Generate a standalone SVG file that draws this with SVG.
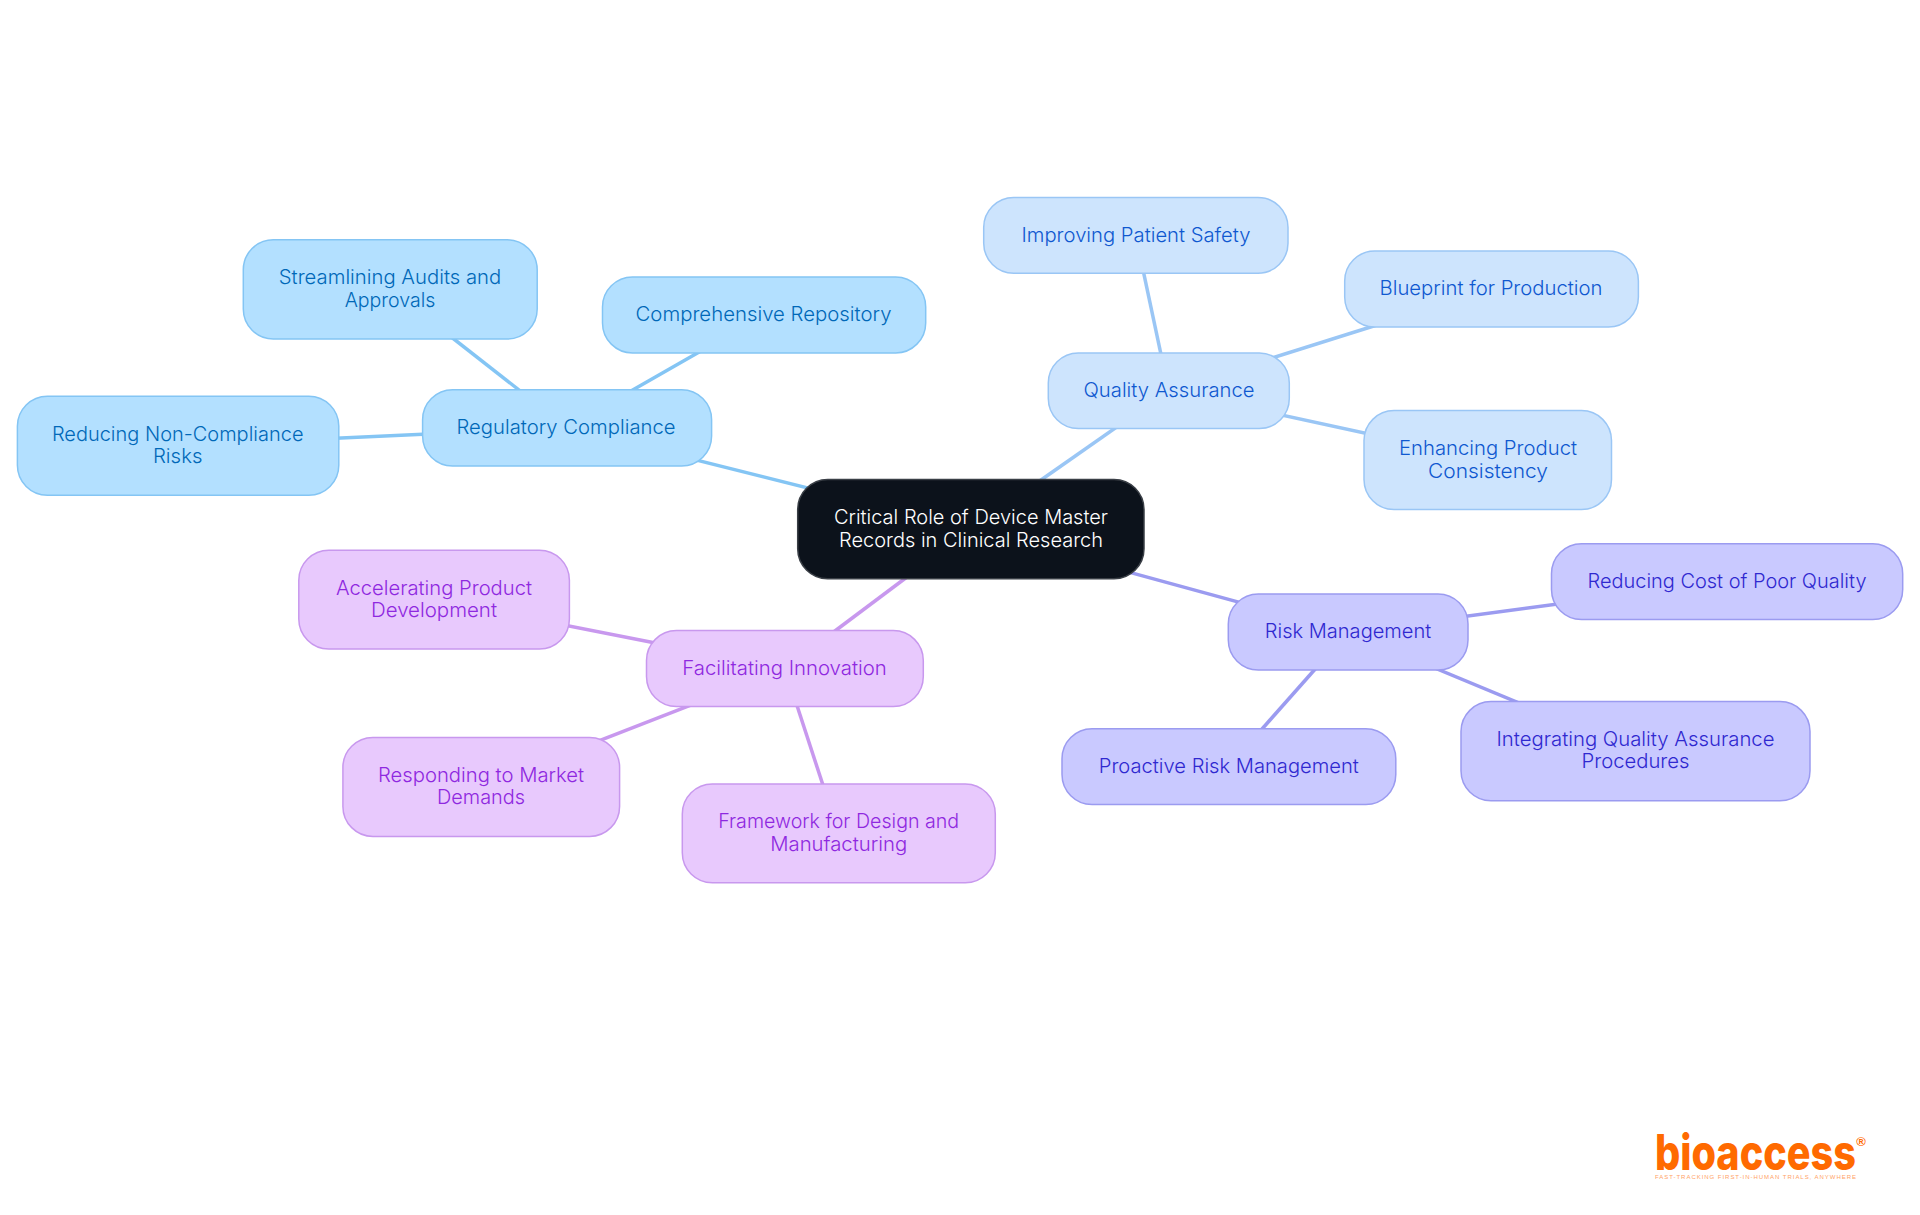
<svg xmlns="http://www.w3.org/2000/svg" width="1920" height="1215" viewBox="0 0 1920 1215">
<style>
text{font-family:"Inter","Noto Sans","Liberation Sans",sans-serif;font-size:20px;font-weight:300;text-anchor:middle}
rect{rx:30px;ry:30px;stroke-width:1.5}
line{stroke-width:3.5;fill:none}
.root rect{fill:#0c121b;stroke:#3a3f46}.root text{fill:#fff}
.b rect{fill:#b3e0ff;stroke:#84c5f4}.b text{fill:#0068b8}line.b{stroke:#84c5f4}
.q rect{fill:#cde4fd;stroke:#9ac6f5}.q text{fill:#0f58d0}line.q{stroke:#9ac6f5}
.r rect{fill:#c9c9ff;stroke:#9b9bf0}.r text{fill:#2f28d0}line.r{stroke:#9b9bf0}
.p rect{fill:#e8c9fd;stroke:#c898ee}.p text{fill:#8f28e0}line.p{stroke:#c898ee}
</style>
<rect width="1920" height="1215" fill="#fff" style="rx:0;ry:0;stroke:none"/>
<g id="connectors">
<line class="b" x1="971" y1="529" x2="567" y2="427.6"/>
<line class="b" x1="567" y1="427.6" x2="390" y2="289"/>
<line class="b" x1="567" y1="427.6" x2="764" y2="315"/>
<line class="b" x1="567" y1="427.6" x2="178" y2="445.6"/>
<line class="q" x1="971" y1="529" x2="1168.7" y2="390.6"/>
<line class="q" x1="1168.7" y1="390.6" x2="1135.6" y2="235"/>
<line class="q" x1="1168.7" y1="390.6" x2="1491.4" y2="289"/>
<line class="q" x1="1168.7" y1="390.6" x2="1487.7" y2="459.7"/>
<line class="r" x1="971" y1="529" x2="1348" y2="632"/>
<line class="r" x1="1348" y1="632" x2="1727" y2="581.6"/>
<line class="r" x1="1348" y1="632" x2="1228.8" y2="766.5"/>
<line class="r" x1="1348" y1="632" x2="1635.5" y2="751.2"/>
<line class="p" x1="971" y1="529" x2="784.9" y2="668.5"/>
<line class="p" x1="784.9" y1="668.5" x2="434" y2="599.4"/>
<line class="p" x1="784.9" y1="668.5" x2="481" y2="786.7"/>
<line class="p" x1="784.9" y1="668.5" x2="838.7" y2="833.3"/>
</g>
<g id="root" class="root"><rect x="797.7" y="479.5" width="346.3" height="99.2"/><text x="971" y="523.5" textLength="274" lengthAdjust="spacingAndGlyphs">Critical Role of Device Master</text><text x="971" y="546.5" textLength="264" lengthAdjust="spacingAndGlyphs">Records in Clinical Research</text></g>
<g id="regulatory" class="b"><rect x="422.6" y="389.8" width="289" height="76.2"/><text x="566" y="433.7" textLength="219" lengthAdjust="spacingAndGlyphs">Regulatory Compliance</text></g>
<g id="streamlining" class="b"><rect x="243.3" y="239.8" width="293.9" height="99.2"/><text x="390" y="284" textLength="222.4" lengthAdjust="spacingAndGlyphs">Streamlining Audits and</text><text x="390" y="306.7" textLength="90.6" lengthAdjust="spacingAndGlyphs">Approvals</text></g>
<g id="comprehensive" class="b"><rect x="602.5" y="276.9" width="323.2" height="76"/><text x="763.5" y="320.5" textLength="256" lengthAdjust="spacingAndGlyphs">Comprehensive Repository</text></g>
<g id="reducing-nc" class="b"><rect x="17.4" y="396.3" width="321.4" height="99"/><text x="177.7" y="441" textLength="251.6" lengthAdjust="spacingAndGlyphs">Reducing Non-Compliance</text><text x="177.7" y="462.8" textLength="49.5" lengthAdjust="spacingAndGlyphs">Risks</text></g>
<g id="quality" class="q"><rect x="1048.3" y="353" width="241" height="75.6"/><text x="1169" y="397" textLength="171" lengthAdjust="spacingAndGlyphs">Quality Assurance</text></g>
<g id="improving" class="q"><rect x="983.7" y="197.4" width="304.3" height="75.8"/><text x="1136" y="242" textLength="229" lengthAdjust="spacingAndGlyphs">Improving Patient Safety</text></g>
<g id="blueprint" class="q"><rect x="1344.7" y="251" width="293.7" height="76"/><text x="1491" y="295" textLength="223" lengthAdjust="spacingAndGlyphs">Blueprint for Production</text></g>
<g id="enhancing" class="q"><rect x="1364" y="410.6" width="247.5" height="99"/><text x="1488" y="455" textLength="178" lengthAdjust="spacingAndGlyphs">Enhancing Product</text><text x="1488" y="478" textLength="120" lengthAdjust="spacingAndGlyphs">Consistency</text></g>
<g id="risk" class="r"><rect x="1228.3" y="594" width="239.7" height="76"/><text x="1348" y="638" textLength="166.5" lengthAdjust="spacingAndGlyphs">Risk Management</text></g>
<g id="cost" class="r"><rect x="1551.5" y="543.7" width="351.2" height="75.9"/><text x="1727" y="587.5" textLength="279" lengthAdjust="spacingAndGlyphs">Reducing Cost of Poor Quality</text></g>
<g id="proactive" class="r"><rect x="1062" y="728.8" width="333.8" height="75.7"/><text x="1228.8" y="773" textLength="260" lengthAdjust="spacingAndGlyphs">Proactive Risk Management</text></g>
<g id="integrating" class="r"><rect x="1461" y="701.6" width="349" height="99.2"/><text x="1635.5" y="746" textLength="278" lengthAdjust="spacingAndGlyphs">Integrating Quality Assurance</text><text x="1635.5" y="768" textLength="108" lengthAdjust="spacingAndGlyphs">Procedures</text></g>
<g id="facilitating" class="p"><rect x="646.5" y="630.6" width="276.8" height="75.9"/><text x="784.5" y="674.5" textLength="204.5" lengthAdjust="spacingAndGlyphs">Facilitating Innovation</text></g>
<g id="accelerating" class="p"><rect x="298.8" y="550.2" width="270.6" height="98.8"/><text x="434" y="595" textLength="196" lengthAdjust="spacingAndGlyphs">Accelerating Product</text><text x="434" y="617" textLength="126" lengthAdjust="spacingAndGlyphs">Development</text></g>
<g id="responding" class="p"><rect x="342.9" y="737.4" width="276.7" height="99"/><text x="481" y="782" textLength="206" lengthAdjust="spacingAndGlyphs">Responding to Market</text><text x="481" y="804" textLength="88" lengthAdjust="spacingAndGlyphs">Demands</text></g>
<g id="framework" class="p"><rect x="682.3" y="784" width="313" height="98.8"/><text x="838.7" y="828" textLength="241" lengthAdjust="spacingAndGlyphs">Framework for Design and</text><text x="838.7" y="851" textLength="137" lengthAdjust="spacingAndGlyphs">Manufacturing</text></g>
<g id="logo">
<text x="1755.5" y="1170" textLength="201" lengthAdjust="spacingAndGlyphs" style="font-family:'Inter','Liberation Sans',sans-serif;font-size:49px;font-weight:800;fill:#ff6a00">bioaccess</text>
<text x="1861" y="1146" style="font-family:'Liberation Sans',sans-serif;font-size:13px;font-weight:700;fill:#ff6a00">®</text>
<text x="1755.5" y="1179" textLength="201" lengthAdjust="spacing" style="font-family:'Liberation Sans',sans-serif;font-size:6px;font-weight:400;fill:#ffa366">FAST-TRACKING FIRST-IN-HUMAN TRIALS, ANYWHERE</text>
</g>
</svg>
